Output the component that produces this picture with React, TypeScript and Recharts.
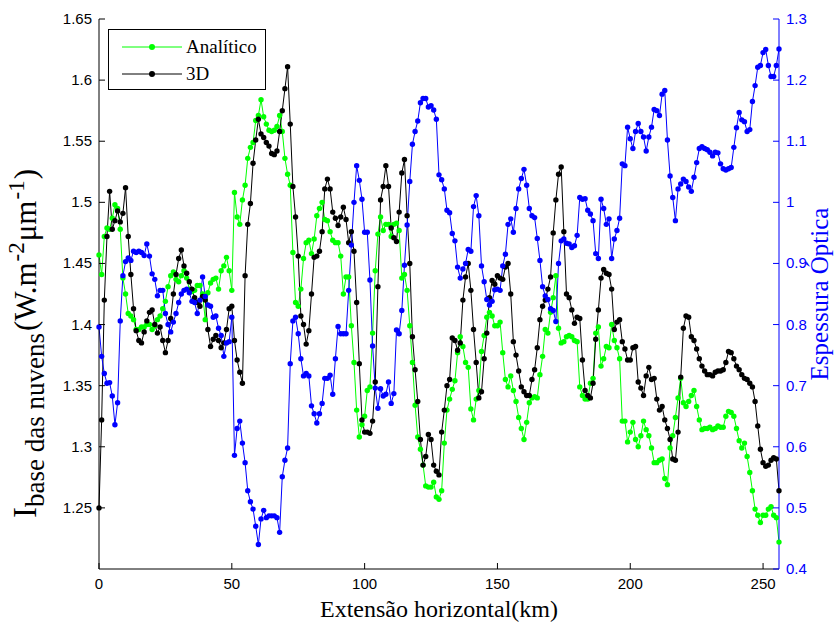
import React from "react";
import { ComposedChart, Line, XAxis, YAxis, Legend } from "recharts";

// Perfil ao longo da extensão horizontal (1 ponto por km)
const analitico = [
  1.457, 1.441, 1.472, 1.479, 1.478, 1.487, 1.498, 1.495, 1.478, 1.438,
  1.425, 1.409, 1.407, 1.404, 1.396, 1.396, 1.398, 1.398, 1.4, 1.4,
  1.396, 1.399, 1.404, 1.407, 1.413, 1.419, 1.431, 1.44, 1.443, 1.437,
  1.435, 1.44, 1.444, 1.438, 1.429, 1.427, 1.428, 1.432, 1.432, 1.425,
  1.404, 1.426, 1.434, 1.437, 1.438, 1.429, 1.444, 1.448, 1.455, 1.444,
  1.428, 1.508, 1.488, 1.482, 1.502, 1.514, 1.536, 1.545, 1.549, 1.567,
  1.571, 1.584, 1.57, 1.564, 1.559, 1.558, 1.559, 1.562, 1.571, 1.558,
  1.536, 1.523, 1.514, 1.459, 1.418, 1.415, 1.429, 1.454, 1.467, 1.469,
  1.458, 1.47, 1.489, 1.495, 1.5, 1.486, 1.485, 1.476, 1.469, 1.467,
  1.467, 1.456, 1.425, 1.439, 1.439, 1.399, 1.369, 1.33, 1.308, 1.318,
  1.325, 1.346, 1.349, 1.393, 1.444, 1.474, 1.488, 1.477, 1.482, 1.482,
  1.472, 1.482, 1.483, 1.477, 1.438, 1.441, 1.428, 1.399, 1.369, 1.334,
  1.308, 1.298, 1.285, 1.268, 1.267, 1.267, 1.271, 1.259, 1.257, 1.264,
  1.303, 1.33, 1.339, 1.347, 1.354, 1.377, 1.39, 1.382, 1.369, 1.365,
  1.331, 1.322, 1.339, 1.346, 1.378, 1.391, 1.406, 1.41, 1.407, 1.399,
  1.399, 1.402, 1.377, 1.355, 1.349, 1.358, 1.346, 1.337, 1.324, 1.315,
  1.306, 1.32, 1.336, 1.34, 1.341, 1.34, 1.359, 1.374, 1.396, 1.393,
  1.41, 1.422, 1.44, 1.397, 1.385, 1.386, 1.39, 1.391, 1.39, 1.387,
  1.386, 1.349, 1.342, 1.339, 1.339, 1.352, 1.356, 1.393, 1.398, 1.366,
  1.372, 1.382, 1.381, 1.4, 1.387, 1.381, 1.372, 1.321, 1.321, 1.304,
  1.312, 1.32, 1.306, 1.3, 1.309, 1.321, 1.314, 1.309, 1.299, 1.287,
  1.287, 1.289, 1.29, 1.274, 1.269, 1.299, 1.309, 1.324, 1.34, 1.356,
  1.336, 1.333, 1.337, 1.342, 1.346, 1.333, 1.322, 1.314, 1.315, 1.315,
  1.316, 1.314, 1.315, 1.317, 1.316, 1.316, 1.325, 1.329, 1.328, 1.325,
  1.315, 1.305, 1.299, 1.303, 1.292, 1.279, 1.264, 1.249, 1.244, 1.238,
  1.244, 1.244, 1.249, 1.251, 1.244, 1.242, 1.222,
];

const tresD = [
  1.25, 1.322, 1.42, 1.472, 1.509, 1.478, 1.485, 1.493, 1.484, 1.491,
  1.512, 1.472, 1.441, 1.413, 1.395, 1.387, 1.385, 1.394, 1.403, 1.41,
  1.412, 1.4, 1.393, 1.398, 1.387, 1.377, 1.387, 1.405, 1.425, 1.441,
  1.454, 1.461, 1.448, 1.442, 1.435, 1.429, 1.422, 1.418, 1.415, 1.423,
  1.42, 1.396, 1.382, 1.388, 1.391, 1.387, 1.381, 1.385, 1.396, 1.413,
  1.415, 1.387, 1.371, 1.361, 1.352, 1.44, 1.482, 1.499, 1.532, 1.551,
  1.568, 1.556, 1.553, 1.549, 1.546, 1.54, 1.539, 1.542, 1.558, 1.575,
  1.593, 1.611, 1.564, 1.513, 1.488, 1.456, 1.407, 1.4, 1.384, 1.395,
  1.425, 1.455, 1.456, 1.46, 1.476, 1.511, 1.519, 1.511, 1.492, 1.487,
  1.481, 1.488, 1.496, 1.486, 1.467, 1.476, 1.46, 1.418, 1.368, 1.322,
  1.312, 1.312, 1.311, 1.321, 1.353, 1.431, 1.502, 1.513, 1.53, 1.513,
  1.479, 1.471, 1.468, 1.492, 1.524, 1.535, 1.489, 1.45, 1.39, 1.363,
  1.337, 1.306, 1.285, 1.292, 1.31, 1.306, 1.285, 1.28, 1.277, 1.312,
  1.33, 1.35, 1.355, 1.389, 1.387, 1.379, 1.385, 1.42, 1.439, 1.45,
  1.428, 1.396, 1.369, 1.34, 1.345, 1.372, 1.393, 1.422, 1.436, 1.433,
  1.44, 1.438, 1.437, 1.447, 1.45, 1.425, 1.386, 1.375, 1.362, 1.349,
  1.345, 1.342, 1.342, 1.355, 1.363, 1.381, 1.404, 1.415, 1.42, 1.429,
  1.439, 1.475, 1.502, 1.523, 1.529, 1.476, 1.425, 1.422, 1.412, 1.401,
  1.406, 1.405, 1.371, 1.346, 1.342, 1.34, 1.352, 1.388, 1.412, 1.438,
  1.445, 1.442, 1.441, 1.429, 1.396, 1.402, 1.404, 1.386, 1.38, 1.371,
  1.371, 1.381, 1.382, 1.353, 1.348, 1.342, 1.358, 1.365, 1.355, 1.356,
  1.339, 1.33, 1.333, 1.322, 1.315, 1.306, 1.29, 1.289, 1.312, 1.357,
  1.397, 1.407, 1.406, 1.39, 1.387, 1.38, 1.372, 1.366, 1.362, 1.359,
  1.359, 1.358, 1.361, 1.362, 1.362, 1.363, 1.369, 1.378, 1.377, 1.372,
  1.366, 1.363, 1.359, 1.356, 1.355, 1.352, 1.349, 1.337, 1.317, 1.298,
  1.287, 1.284, 1.285, 1.289, 1.291, 1.29, 1.264,
];

const espessura = [
  0.796, 0.748, 0.72, 0.704, 0.705, 0.683, 0.636, 0.672, 0.806, 0.88,
  0.903, 0.909, 0.905, 0.92, 0.918, 0.92, 0.918, 0.913, 0.932, 0.912,
  0.883, 0.874, 0.847, 0.856, 0.856, 0.818, 0.8, 0.788, 0.804, 0.818,
  0.836, 0.85, 0.856, 0.858, 0.852, 0.838, 0.836, 0.818, 0.84, 0.878,
  0.846, 0.832, 0.83, 0.812, 0.814, 0.794, 0.782, 0.748, 0.77, 0.772,
  0.812, 0.586, 0.63, 0.642, 0.606, 0.574, 0.528, 0.51, 0.498, 0.47,
  0.44, 0.482, 0.496, 0.484, 0.487, 0.487, 0.487, 0.484, 0.46, 0.551,
  0.578, 0.598, 0.736, 0.806, 0.812, 0.785, 0.744, 0.716, 0.72, 0.716,
  0.667, 0.654, 0.639, 0.654, 0.671, 0.712, 0.712, 0.717, 0.686, 0.744,
  0.797, 0.785, 0.785, 0.785, 0.856, 0.93, 1.0, 1.06, 1.036, 1.005,
  0.951, 0.951, 0.873, 0.765, 0.696, 0.663, 0.695, 0.683, 0.686, 0.706,
  0.671, 0.687, 0.791, 0.785, 0.823, 0.897, 0.963, 1.034, 1.095, 1.116,
  1.133, 1.163, 1.17, 1.17, 1.156, 1.158, 1.151, 1.136, 1.045, 1.037,
  1.022, 0.987, 0.983, 0.949, 0.937, 0.894, 0.876, 0.891, 0.9, 0.923,
  0.92, 0.993, 1.011, 0.978, 0.896, 0.87, 0.841, 0.832, 0.838, 0.857,
  0.858, 0.856, 0.896, 0.915, 0.964, 0.973, 0.951, 0.99, 1.022, 1.039,
  1.054, 1.028, 0.99, 0.978, 0.975, 0.941, 0.905, 0.862, 0.847, 0.841,
  0.826, 0.823, 0.805, 0.9, 0.937, 0.94, 0.933, 0.932, 0.926, 0.929,
  0.946, 1.008, 1.005, 1.006, 0.987, 0.981, 0.97, 0.916, 0.908, 1.005,
  0.99, 0.964, 0.973, 0.908, 0.94, 0.954, 0.974, 1.063, 1.06, 1.123,
  1.104, 1.088, 1.116, 1.129, 1.116, 1.107, 1.084, 1.107, 1.123, 1.152,
  1.15, 1.142, 1.177, 1.183, 1.102, 1.043, 1.008, 0.97, 1.022, 1.03,
  1.038, 1.034, 1.025, 1.018, 1.041, 1.065, 1.088, 1.091, 1.088, 1.086,
  1.082, 1.076, 1.082, 1.081, 1.063, 1.055, 1.053, 1.055, 1.057, 1.09,
  1.122, 1.147, 1.135, 1.132, 1.116, 1.119, 1.165, 1.191, 1.221, 1.224,
  1.245, 1.25, 1.224, 1.206, 1.206, 1.224, 1.251,
];

const km = analitico.map((_, i) => i);

const xTicks = [0, 50, 100, 150, 200, 250];
const leftTicks = [1.25, 1.3, 1.35, 1.4, 1.45, 1.5, 1.55, 1.6, 1.65];
const rightTicks = [0.4, 0.5, 0.6, 0.7, 0.8, 0.9, 1.0, 1.1, 1.2, 1.3];

const rows = km.map((k, i) => ({
  km: k,
  analitico: analitico[i],
  tresD: tresD[i],
  espessura: espessura[i],
}));

const GREEN = "#00ff00";
const BLUE = "#0000ff";
const SANS = "'Liberation Sans', Arial, sans-serif";
const SERIF = "'Liberation Serif', 'Times New Roman', serif";

// plot box in page pixels
const L = 99, R = 779, T = 19, B = 569;

const fmt = (v: number) => String(Number(v.toFixed(2)));

const LeftTick = (p: any) => (
  <g>
    <line x1={L} x2={L + 6} y1={p.y} y2={p.y} stroke="#000" />
    <text x={L - 7} y={p.y + 5} textAnchor="end" fontFamily={SANS} fontSize={15} fill="#000">
      {fmt(p.payload.value)}
    </text>
  </g>
);

const RightTick = (p: any) => (
  <g>
    <line x1={R} x2={R - 6} y1={p.y} y2={p.y} stroke={BLUE} />
    <text x={R + 7} y={p.y + 5} textAnchor="start" fontFamily={SANS} fontSize={15} fill={BLUE}>
      {fmt(p.payload.value)}
    </text>
  </g>
);

const BottomTick = (p: any) => (
  <g>
    <line x1={p.x} x2={p.x} y1={B} y2={B - 6} stroke="#000" />
    <text x={p.x} y={B + 20} textAnchor="middle" fontFamily={SANS} fontSize={15} fill="#000">
      {p.payload.value}
    </text>
  </g>
);

const YLabelLeft = () => (
  <text
    transform="translate(36, 518) rotate(-90)"
    textAnchor="start"
    fontFamily={SERIF}
    fontSize={31}
    fill="#000"
  >
    <tspan fontSize={33}>I</tspan>
    <tspan dy={8} fontSize={27}>base das nuvens</tspan>
    <tspan dy={-8} dx={2}>(W.m</tspan>
    <tspan dy={-12} dx={1} fontSize={23}>-2</tspan>
    <tspan dy={12} dx={1}>μm</tspan>
    <tspan dy={-12} dx={1} fontSize={23}>-1</tspan>
    <tspan dy={12} dx={1}>)</tspan>
  </text>
);

const YLabelRight = () => (
  <text
    transform={`translate(828, ${(T + B) / 2}) rotate(-90)`}
    textAnchor="middle"
    fontFamily={SERIF}
    fontSize={25}
    fill={BLUE}
  >
    Espessura Óptica
  </text>
);

const XLabel = () => (
  <text x={(L + R) / 2} y={617} textAnchor="middle" fontFamily={SERIF} fontSize={24} fill="#000">
    Extensão horizontal(km)
  </text>
);

const LegendBox = () => (
  <div style={{ width: 158, height: 61, border: "1px solid #000", background: "#fff", boxSizing: "border-box" }}>
    <svg width={156} height={59} style={{ display: "block" }}>
      <line x1={13} x2={73} y1={17} y2={17} stroke={GREEN} />
      <circle cx={43} cy={17} r={3} fill={GREEN} />
      <text x={77} y={23} fontFamily={SERIF} fontSize={19}>Analítico</text>
      <line x1={13} x2={73} y1={44} y2={44} stroke="#000" />
      <circle cx={43} cy={44} r={3} fill="#000" />
      <text x={77} y={50} fontFamily={SERIF} fontSize={19}>3D</text>
    </svg>
  </div>
);

export default function App() {
  return (
    <div style={{ position: "absolute", left: 0, top: 0, width: 836, height: 623, background: "#fff" }}>
      <ComposedChart
        width={836}
        height={623}
        data={rows}
        margin={{ top: T, right: 836 - R - 40, bottom: 623 - B - 30, left: L - 60 }}
      >
        <XAxis
          dataKey="km"
          type="number"
          domain={[0, 256]}
          ticks={xTicks}
          height={30}
          stroke="#000"
          tickLine={false}
          tick={BottomTick}
          label={<XLabel />}
        />
        <YAxis
          yAxisId="left"
          domain={[1.2, 1.65]}
          ticks={leftTicks}
          width={60}
          stroke="#000"
          tickLine={false}
          tick={LeftTick}
          interval={0}
          label={<YLabelLeft />}
        />
        <YAxis
          yAxisId="right"
          orientation="right"
          domain={[0.4, 1.3]}
          ticks={rightTicks}
          width={40}
          stroke={BLUE}
          tickLine={false}
          tick={RightTick}
          interval={0}
          label={<YLabelRight />}
        />
        <Legend
          layout="vertical"
          align="center"
          verticalAlign="middle"
          content={<LegendBox />}
          wrapperStyle={{ position: "absolute", left: 108, top: 29, width: 158, height: 61 }}
        />
        <Line
          yAxisId="left"
          dataKey="analitico"
          type="linear"
          stroke={GREEN}
          strokeWidth={1}
          dot={{ r: 2.7, fill: GREEN, stroke: GREEN, strokeWidth: 0 }}
          activeDot={false}
          isAnimationActive={false}
        />
        <Line
          yAxisId="left"
          dataKey="tresD"
          type="linear"
          stroke="#000"
          strokeWidth={1}
          dot={{ r: 2.7, fill: "#000", stroke: "#000", strokeWidth: 0 }}
          activeDot={false}
          isAnimationActive={false}
        />
        <Line
          yAxisId="right"
          dataKey="espessura"
          type="linear"
          stroke={BLUE}
          strokeWidth={1}
          dot={{ r: 2.7, fill: BLUE, stroke: BLUE, strokeWidth: 0 }}
          activeDot={false}
          isAnimationActive={false}
        />
      </ComposedChart>
    </div>
  );
}
